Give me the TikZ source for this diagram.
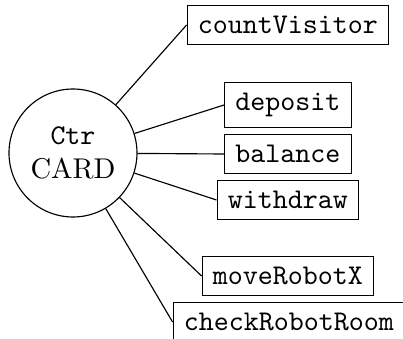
\documentclass[tikz,border=0pt]{standalone}
\begin{document}
\begin{tikzpicture}[x=0.35pt,y=-0.35pt,
  op/.style={draw,rectangle,font=\ttfamily,inner sep=3.8pt},
  ctr/.style={draw,circle,minimum size=44.8pt,inner sep=0pt,align=center},
  link/.style={line width=0.4pt}]
  \useasboundingbox (0,0) rectangle (403,339);
  % central card counter
  \node[ctr] (card) at (73,153) {\texttt{Ctr}\\CARD};
  % operations
  \node[op] (count) at (288,25) {countVisitor};
  \node[op] (dep) at (288,105) {deposit};
  \node[op] (bal) at (288,154) {balance};
  \node[op] (wd) at (288,200) {withdraw};
  \node[op] (move) at (288,276) {moveRobotX};
  \node[op] (check) at (289,322) {checkRobotRoom};
  % connectors
  \foreach \n in {count,dep,bal,wd,move,check}
    \draw[link] (card) -- (\n.west);
\end{tikzpicture}
\end{document}
